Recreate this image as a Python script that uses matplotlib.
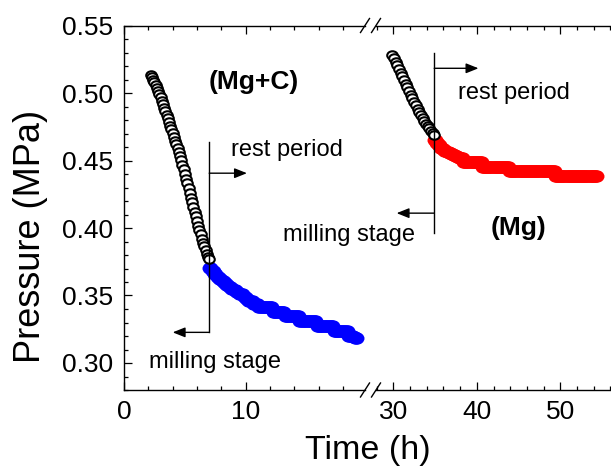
import matplotlib
matplotlib.use("Agg")
import matplotlib.pyplot as plt
from matplotlib.lines import Line2D
from matplotlib.path import Path
from matplotlib.ticker import MultipleLocator, FormatStrFormatter
from matplotlib.transforms import Affine2D

plt.rcParams["font.family"] = ["Liberation Sans", "DejaVu Sans"]

# ---- (Mg+C): milling stage (open) and rest period (blue) ----
t_mgc_mill = [2.2, 2.3, 2.4, 2.5, 2.6, 2.7, 2.8, 2.9, 3.0, 3.1, 3.2, 3.3, 3.4,
              3.5, 3.6, 3.7, 3.8, 3.9, 4.0, 4.1, 4.2, 4.3, 4.4, 4.5, 4.6, 4.7,
              4.8, 4.9, 5.0, 5.1, 5.2, 5.3, 5.4, 5.5, 5.6, 5.7, 5.8, 5.9, 6.0,
              6.1, 6.2, 6.3, 6.4, 6.5, 6.6, 6.7, 6.8, 6.9, 7.0]
p_mgc_mill = [0.5130, 0.5118, 0.5098, 0.5078, 0.5057, 0.5035, 0.5013, 0.4990,
              0.4967, 0.4943, 0.4918, 0.4892, 0.4866, 0.4840, 0.4813, 0.4786,
              0.4759, 0.4731, 0.4703, 0.4675, 0.4647, 0.4619, 0.4591, 0.4563,
              0.4535, 0.4503, 0.4470, 0.4435, 0.4400, 0.4365, 0.4330, 0.4295,
              0.4260, 0.4225, 0.4190, 0.4155, 0.4120, 0.4086, 0.4052, 0.4018,
              0.3985, 0.3953, 0.3922, 0.3892, 0.3863, 0.3836, 0.3811, 0.3788,
              0.3767]

t_mgc_rest = [7.1, 7.3, 7.5, 7.7, 7.9, 8.1, 8.3, 8.5, 8.7, 8.9, 9.1, 9.3, 9.5,
              9.7, 9.9, 10.1, 10.3, 10.5, 10.7, 10.9, 11.1, 11.3, 11.5, 11.7,
              11.9, 12.1, 12.3, 12.5, 12.7, 12.9, 13.1, 13.3, 13.5, 13.7, 13.9,
              14.1, 14.3, 14.5, 14.7, 14.9, 15.1, 15.3, 15.5, 15.7, 15.9, 16.1,
              16.3, 16.5, 16.7, 16.9, 17.1, 17.3, 17.5, 17.7, 17.9, 18.1, 18.3,
              18.5, 18.7, 18.9, 19.1]
p_mgc_rest = [0.3705, 0.3680, 0.3658, 0.3638, 0.3620, 0.3604, 0.3589, 0.3575,
              0.3562, 0.3550, 0.3540, 0.3525, 0.3510, 0.3510, 0.3490, 0.3475,
              0.3460, 0.3460, 0.3440, 0.3440, 0.3412, 0.3412, 0.3412, 0.3412,
              0.3412, 0.3412, 0.3378, 0.3378, 0.3378, 0.3378, 0.3378, 0.3345,
              0.3345, 0.3345, 0.3345, 0.3345, 0.3345, 0.3310, 0.3310, 0.3310,
              0.3310, 0.3310, 0.3310, 0.3310, 0.3275, 0.3275, 0.3275, 0.3275,
              0.3275, 0.3275, 0.3275, 0.3240, 0.3240, 0.3240, 0.3240, 0.3240,
              0.3240, 0.3200, 0.3200, 0.3195, 0.3185]

# ---- (Mg): milling stage (open) and rest period (red) ----
t_mg_mill = [29.9, 30.1, 30.3, 30.5, 30.7, 30.9, 31.1, 31.3, 31.5, 31.7, 31.9,
             32.1, 32.3, 32.5, 32.7, 32.9, 33.1, 33.3, 33.5, 33.7, 33.9, 34.1,
             34.3, 34.5, 34.7, 34.9]
p_mg_mill = [0.5285, 0.5258, 0.5231, 0.5204, 0.5177, 0.5150, 0.5123, 0.5096,
             0.5069, 0.5042, 0.5015, 0.4988, 0.4961, 0.4934, 0.4908, 0.4882,
             0.4857, 0.4834, 0.4812, 0.4792, 0.4773, 0.4755, 0.4738, 0.4721,
             0.4705, 0.4690]

t_mg_rest = [35.0, 35.25, 35.5, 35.75, 36.0, 36.25, 36.5, 36.75, 37.0, 37.25,
             37.5, 37.75, 38.0, 38.25, 38.5, 38.75, 39.0, 39.25, 39.5, 39.75,
             40.0, 40.25, 40.5, 40.75, 41.0, 41.25, 41.5, 41.75, 42.0, 42.25,
             42.5, 42.75, 43.0, 43.25, 43.5, 43.75, 44.0, 44.25, 44.5, 44.75,
             45.0, 45.25, 45.5, 45.75, 46.0, 46.25, 46.5, 46.75, 47.0, 47.25,
             47.5, 47.75, 48.0, 48.25, 48.5, 48.75, 49.0, 49.25, 49.5, 49.75,
             50.0, 50.25, 50.5, 50.75, 51.0, 51.25, 51.5, 51.75, 52.0, 52.25,
             52.5, 52.75, 53.0, 53.25, 53.5, 53.75, 54.0, 54.25]
p_mg_rest = [0.4655, 0.4632, 0.4612, 0.4596, 0.4583, 0.4572, 0.4562, 0.4553,
             0.4545, 0.4540, 0.4533, 0.4525, 0.4520, 0.4520,
             0.4490, 0.4490, 0.4490, 0.4490, 0.4490, 0.4490, 0.4490, 0.4490,
             0.4490,
             0.4455, 0.4455, 0.4455, 0.4455, 0.4455, 0.4455, 0.4455, 0.4455,
             0.4455, 0.4455, 0.4455, 0.4455, 0.4455,
             0.4425, 0.4425, 0.4425, 0.4425, 0.4425, 0.4425, 0.4425, 0.4425,
             0.4425, 0.4425, 0.4425, 0.4425, 0.4425, 0.4425, 0.4425, 0.4425,
             0.4425, 0.4425, 0.4425, 0.4425, 0.4425, 0.4425,
             0.4385, 0.4385, 0.4385, 0.4385, 0.4385, 0.4385, 0.4385, 0.4385,
             0.4385, 0.4385, 0.4385, 0.4385, 0.4385, 0.4385, 0.4385, 0.4385,
             0.4385, 0.4385, 0.4385, 0.4385]

# ---- figure: broken time axis built from two panels ----
W, H = 611, 466
fig = plt.figure(figsize=(W / 100, H / 100), dpi=100)
px_left, px_brk_l, px_brk_r, px_right = 124, 365, 376, 611
px_top, px_bot = 25.5, 390


def rect(x0, x1):
    return [x0 / W, (H - px_bot) / H, (x1 - x0) / W, (px_bot - px_top) / H]


axL = fig.add_axes(rect(px_left, px_brk_l))
axR = fig.add_axes(rect(px_brk_r, px_right), sharey=axL)
axL.set_xlim(0, 19.8)
axR.set_xlim(27.93, 56.07)
axL.set_ylim(0.28, 0.55)

axL.spines["right"].set_visible(False)
axR.spines["left"].set_visible(False)
axR.spines["right"].set_visible(False)
for a in (axL, axR):
    for s in a.spines.values():
        s.set_linewidth(1.0)
    a.xaxis.set_major_locator(MultipleLocator(10))
    a.xaxis.set_minor_locator(MultipleLocator(2))
    a.tick_params(which="both", direction="in", top=True, width=0.9,
                  labelsize=19, pad=7)
    a.tick_params(which="major", length=5.5)
    a.tick_params(which="minor", length=3.2)
axL.yaxis.set_major_locator(MultipleLocator(0.05))
axL.yaxis.set_minor_locator(MultipleLocator(0.01))
axL.yaxis.set_major_formatter(FormatStrFormatter("%.2f"))
axL.tick_params(axis="y", which="both", right=False, pad=8)
axR.tick_params(axis="y", which="both", left=False, right=False, labelleft=False)

# slightly wide symbols, as in the original plot
ellipse = Path.unit_circle().transformed(Affine2D().scale(1.25, 1.0))
open_kw = dict(ls="none", marker=ellipse, ms=7.6, mfc="white", mec="black",
               mew=1.5, zorder=3)
fill_kw = dict(ls="none", marker=ellipse, ms=11.5, mew=0, zorder=2)

axL.plot(t_mgc_rest, p_mgc_rest, color="#0000ff", **fill_kw)
axL.plot(t_mgc_mill, p_mgc_mill, **open_kw)
axR.plot(t_mg_rest, p_mg_rest, color="#ff0000", **fill_kw)
axR.plot(t_mg_mill, p_mg_mill, **open_kw)

# stage markers: vertical divider with arrows to either side
arrow = dict(arrowstyle="-|>,head_length=0.75,head_width=0.3", color="black",
             lw=1.0, shrinkA=0, shrinkB=0, mutation_scale=10)


def divider(ax, x, y0, y1, y_rest, x_rest, y_mill, x_mill):
    ax.plot([x, x], [y0, y1], color="black", lw=1.0, zorder=4)
    ax.annotate("", xy=(x_rest, y_rest), xytext=(x, y_rest),
                arrowprops=arrow, zorder=4)
    ax.annotate("", xy=(x_mill, y_mill), xytext=(x, y_mill),
                arrowprops=arrow, zorder=4)


divider(axL, 7.0, 0.3227, 0.464, 0.4406, 10.1, 0.3227, 4.0)
divider(axR, 34.9, 0.3962, 0.5294, 0.5183, 40.2, 0.411, 30.4)

axL.text(10.68, 0.5082, "(Mg+C)", fontsize=19, fontweight="bold",
         ha="center", va="center")
axL.text(13.35, 0.4579, "rest period", fontsize=17, ha="center", va="center")
axL.text(7.44, 0.3010, "milling stage", fontsize=17, ha="center", va="center")
axR.text(44.4, 0.5000, "rest period", fontsize=17, ha="center", va="center")
axR.text(24.75, 0.3950, "milling stage", fontsize=17, ha="center", va="center")
axR.text(45.05, 0.4001, "(Mg)", fontsize=19, fontweight="bold",
         ha="center", va="center")

# break marks "//" on the top and bottom axis lines
for cy in (px_top, px_bot):
    for cx in (px_brk_l, px_brk_r):
        fig.add_artist(Line2D([(cx - 4.5) / W, (cx + 4.5) / W],
                              [(H - cy - 7) / H, (H - cy + 7) / H],
                              transform=fig.transFigure, color="black", lw=1.0))

fig.text(368 / W, (H - 450) / H, "Time (h)", fontsize=24.5, ha="center",
         va="center")
fig.text(31 / W, (H - 236) / H, "Pressure (MPa)", fontsize=26, rotation=90,
         ha="center", va="center")

fig.savefig("out.png", dpi=100)
